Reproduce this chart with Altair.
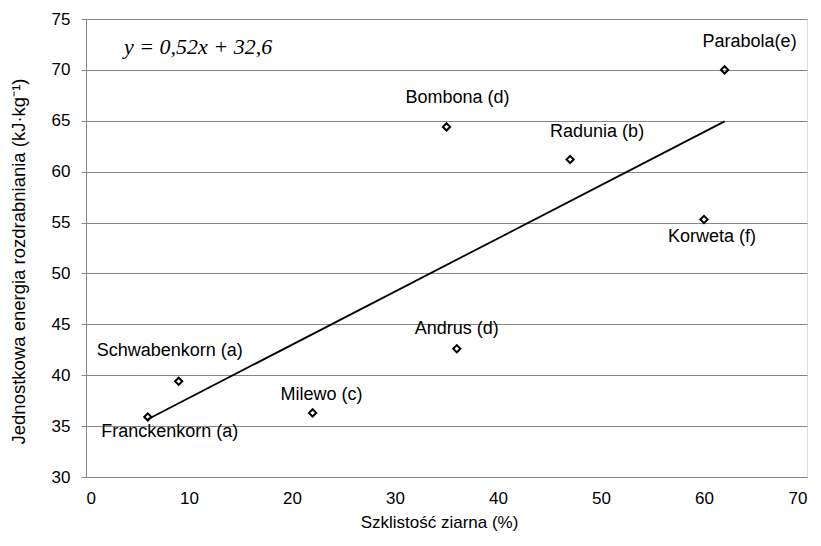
import altair as alt
import pandas as pd

names = ["Franckenkorn (a)", "Schwabenkorn (a)", "Milewo (c)", "Andrus (d)",
         "Bombona (d)", "Radunia (b)", "Korweta (f)", "Parabola(e)"]
glassiness = [6, 9, 22, 36, 35, 47, 60, 62]
energy = [35.9, 39.4, 36.3, 42.6, 64.4, 61.2, 55.3, 70.0]
equation = ["y = 0,52x + 32,6"]
x_ticks = [0, 10, 20, 30, 40, 50, 60, 70]
y_ticks = [30, 35, 40, 45, 50, 55, 60, 65, 70, 75]

df = pd.DataFrame({"name": names, "x": glassiness, "y": energy})

FONT = "Liberation Sans"
GRID = "#868686"

xs = alt.Scale(domain=[0, 70], nice=False, zero=False)
ys = alt.Scale(domain=[30, 75], nice=False, zero=False)

xenc = alt.X("x:Q", scale=xs, axis=alt.Axis(
    values=x_ticks, title="Szklistość  ziarna (%)", grid=False,
    ticks=False, domain=True, domainColor=GRID, labelPadding=13,
    labelFontSize=17, labelFont=FONT, labelColor="#000",
    titleFont=FONT, titleFontSize=17, titleFontWeight="normal", titleColor="#000",
    titleX=353, titleY=45, titleBaseline="middle"))
yenc = alt.Y("y:Q", scale=ys, axis=alt.Axis(
    values=y_ticks, title="Jednostkowa energia rozdrabniania (kJ·kg⁻¹)",
    grid=True, gridColor=GRID, gridWidth=1, ticks=True, tickSize=5, tickColor=GRID,
    domain=True, domainColor=GRID, labelPadding=11,
    labelFontSize=17, labelFont=FONT, labelColor="#000",
    titleFont=FONT, titleFontSize=18.5, titleFontWeight="normal", titleColor="#000",
    titleX=-68, titleY=242, titleBaseline="middle", titleAngle=-90))

base = alt.Chart(df)

line = base.transform_regression("x", "y").mark_line(
    color="#000", strokeWidth=1.8).encode(x=alt.X("x:Q", scale=xs), y=alt.Y("y:Q", scale=ys))

points = base.mark_point(shape="diamond", size=52, filled=False, color="#000",
                         strokeWidth=2, opacity=1).encode(x=xenc, y=yenc)

offsets = {
    "Franckenkorn (a)": (22, 15),
    "Schwabenkorn (a)": (-9, -30),
    "Milewo (c)": (9, -18),
    "Andrus (d)": (0, -20),
    "Bombona (d)": (11, -29),
    "Radunia (b)": (27, -27),
    "Korweta (f)": (8, 17),
    "Parabola(e)": (25, -28),
}

label_layers = []
for n in names:
    dx, dy = offsets[n]
    label_layers.append(
        base.transform_filter(alt.datum.name == n).mark_text(
            font=FONT, fontSize=18, color="#000", dx=dx, dy=dy,
            align="center", baseline="middle").encode(
            x=alt.X("x:Q", scale=xs), y=alt.Y("y:Q", scale=ys), text="name:N"))

eq = alt.Chart(pd.DataFrame({"t": equation})).mark_text(
    font="Liberation Serif", fontStyle="italic", fontSize=22, color="#000",
    align="left", baseline="middle").encode(
    x=alt.value(38), y=alt.value(28), text="t:N")

chart = alt.layer(line, points, *label_layers, eq).properties(
    width=721, height=458,
    autosize=alt.AutoSizeParams(type="none"),
    padding={"left": 78, "top": 11, "right": 6, "bottom": 60},
).configure_view(stroke=None).configure(background="white")

chart.save("out.html", embed_options={"renderer": "svg", "actions": False})
